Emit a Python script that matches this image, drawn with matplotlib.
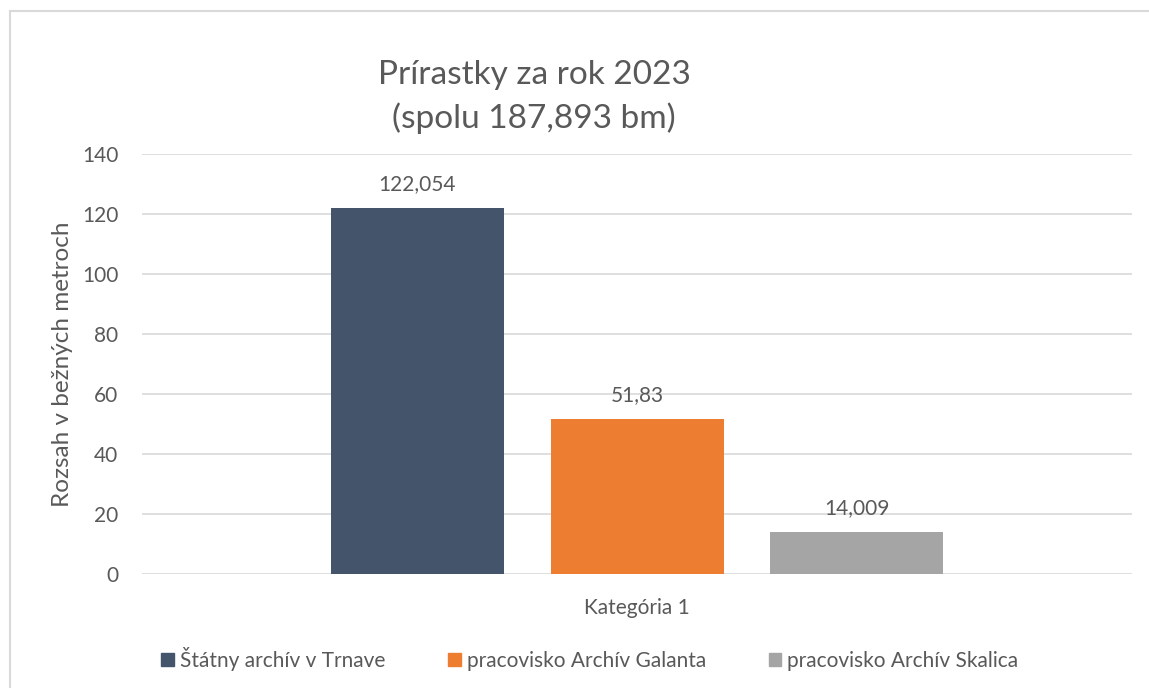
import matplotlib.pyplot as plt
from matplotlib.patches import Rectangle
from matplotlib.lines import Line2D

plt.rcParams['font.family'] = ['Lato', 'DejaVu Sans']

title_lines = ["Prírastky za rok 2023", "(spolu 187,893 bm)"]
category = "Kategória 1"
series = ["Štátny archív v Trnave", "pracovisko Archív Galanta", "pracovisko Archív Skalica"]
values = [122.054, 51.83, 14.009]
colors = ["#44546A", "#ED7D31", "#A5A5A5"]
y_ticks = [0, 20, 40, 60, 80, 100, 120, 140]
y_label = "Rozsah v bežných metroch"

text_color = "#595959"
grid_color = "#D9D9D9"

W, H = 1149, 688
fig = plt.figure(figsize=(W / 100, H / 100), dpi=100)
ax = fig.add_axes([142 / W, 1 - 574 / H, 990 / W, 420 / H])

bar_w = 173 / 990
step = 219.5 / 990
offsets = [(i - 1) * step for i in range(len(values))]
for off, v, c, name in zip(offsets, values, colors, series):
    ax.bar(off, v, width=bar_w, color=c, label=name, zorder=3)
    ax.annotate(f"{v:g}".replace(".", ","), (off, v), xytext=(0, 10),
                textcoords="offset points", ha="center", va="bottom",
                fontsize=15, color=text_color)

ax.set_xlim(-0.5, 0.5)
ax.set_ylim(0, 140)
ax.set_yticks(y_ticks)
ax.set_xticks([0])
ax.set_xticklabels([category])
ax.tick_params(axis="both", length=0, labelsize=15, labelcolor=text_color)
ax.tick_params(axis="x", pad=17)
ax.tick_params(axis="y", pad=17)
ax.grid(axis="y", color=grid_color, linewidth=1.2, zorder=0)
for s in ax.spines.values():
    s.set_visible(False)
ax.set_ylabel(y_label, fontsize=17.5, color=text_color)
ax.yaxis.set_label_coords((73 - 142) / 990, 0.5)

for y_px, line in zip([75, 118], title_lines):
    fig.text(534 / W, 1 - y_px / H, line, ha="center", va="center",
             fontsize=24, color=text_color)

handles = [Rectangle((0, 0), 1, 1, color=c) for c in colors]
fig.legend(handles, series, loc="center", bbox_to_anchor=(590 / W, 1 - 659 / H),
           ncol=3, frameon=False, fontsize=15, labelcolor=text_color,
           handlelength=0.6, handleheight=0.6, handletextpad=0.3, columnspacing=3.0)

fig.lines.append(Line2D([9.5 / W, 9.5 / W], [0, 1 - 10.5 / H], transform=fig.transFigure,
                        color=grid_color, linewidth=1.5))
fig.lines.append(Line2D([9.5 / W, 1], [1 - 10.5 / H, 1 - 10.5 / H], transform=fig.transFigure,
                        color=grid_color, linewidth=1.5))

fig.savefig("out.png", dpi=100)
